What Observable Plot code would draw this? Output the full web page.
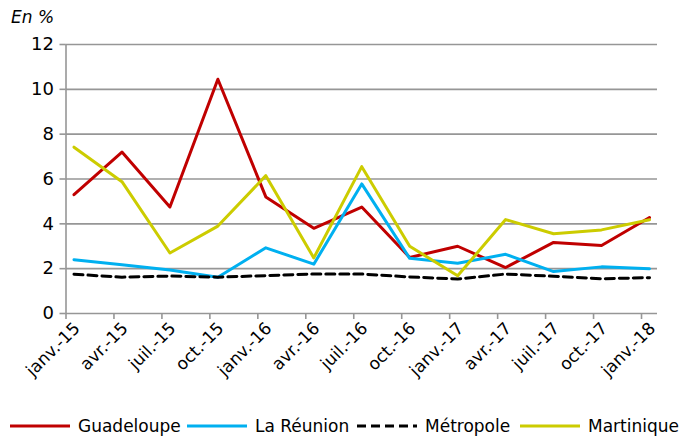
<!DOCTYPE html>
<html>
<head>
<meta charset="utf-8">
<script src="https://cdn.jsdelivr.net/npm/d3@7"></script>
<script src="https://cdn.jsdelivr.net/npm/@observablehq/plot@0.6"></script>
<style>
  html, body { margin: 0; padding: 0; background: #fff; }
  body { width: 697px; height: 438px; position: relative; overflow: hidden; font-family: "DejaVu Sans", sans-serif; color: #000; }
  #chart { position: absolute; left: 0; top: 0; }
  #title { position: absolute; left: 11px; top: 7px; font-size: 17px; font-style: italic; z-index: 2; }
  .leg { position: absolute; top: 415px; height: 22px; display: flex; align-items: center; font-size: 17px; white-space: nowrap; }
  .leg svg { margin-right: 8px; }
</style>
</head>
<body>
<div id="chart"></div>
<div id="title">En %</div>
<div id="legend"></div>
<script>
const labels = ["janv.-15","avr.-15","juil.-15","oct.-15","janv.-16","avr.-16","juil.-16","oct.-16","janv.-17","avr.-17","juil.-17","oct.-17","janv.-18"];
const guadeloupe = [5.3, 7.2, 4.75, 10.45, 5.2, 3.8, 4.75, 2.5, 3.0, 2.05, 3.17, 3.03, 4.28];
const reunion    = [2.4, 2.17, 1.94, 1.62, 2.93, 2.2, 5.78, 2.46, 2.24, 2.64, 1.87, 2.08, 2.0];
const metropole  = [1.75, 1.62, 1.67, 1.62, 1.69, 1.76, 1.76, 1.63, 1.54, 1.76, 1.66, 1.55, 1.6];
const martinique = [7.42, 5.88, 2.7, 3.9, 6.15, 2.48, 6.55, 3.0, 1.68, 4.19, 3.56, 3.73, 4.18];
const yTicks = [0, 2, 4, 6, 8, 10, 12];

const seriesNames = ["Guadeloupe", "La Réunion", "Métropole", "Martinique"];
const seriesValues = [guadeloupe, reunion, metropole, martinique];
const seriesColors = ["#C00000", "#00B0F0", "#000000", "#CCCC00"];
const seriesDash = [null, null, "9,5", null];

// months: labels every 3 months, points at middle of month
const monthOf = i => 3 * i + 0.5;
const rows = [];
seriesNames.forEach((s, k) => seriesValues[k].forEach((v, i) => rows.push({serie: s, m: monthOf(i), v})));
const boundaryTicks = labels.map((_, i) => 3 * i);
const midTicks = labels.map((_, i) => monthOf(i));
const labelOf = new Map(midTicks.map((m, i) => [m, labels[i]]));

const gridColor = "#969696";

const chart = Plot.plot({
  width: 697,
  height: 410,
  marginTop: 44,
  marginLeft: 65.5,
  marginRight: 40,
  marginBottom: 97,
  style: {fontFamily: "'DejaVu Sans', sans-serif", fontSize: "17px", color: "#000", background: "#fff"},
  x: {domain: [0, 37], axis: null},
  y: {domain: [0, 12], axis: null},
  marks: [
    Plot.gridY(yTicks, {stroke: gridColor, strokeOpacity: 1, strokeWidth: 1.6}),
    Plot.ruleX([0], {y1: 0, y2: 12, stroke: gridColor, strokeWidth: 1.6}),
    Plot.axisY(yTicks, {tickSize: 6, tickPadding: 6, stroke: gridColor, strokeWidth: 1.6, label: null, fill: "#000", fontSize: 18}),
    Plot.axisX(boundaryTicks, {tickSize: 6, tickFormat: () => "", stroke: gridColor, strokeWidth: 1.6, label: null}),
    Plot.axisX(midTicks, {tickSize: 0, tickPadding: 12, tickRotate: -45, tickFormat: d => labelOf.get(d), label: null, fill: "#000", dx: 3}),
    ...seriesNames.map((s, k) => Plot.line(rows.filter(r => r.serie === s), {
      x: "m", y: "v", stroke: seriesColors[k], strokeWidth: 3, strokeDasharray: seriesDash[k] || undefined, strokeLinejoin: "round"
    }))
  ]
});
document.getElementById("chart").appendChild(chart);

// legend
const legendLefts = [10, 187, 357, 520];
const legend = document.getElementById("legend");
seriesNames.forEach((s, k) => {
  const item = document.createElement("div");
  item.className = "leg";
  item.style.left = legendLefts[k] + "px";
  const w = 60;
  item.innerHTML = `<svg width="${w}" height="6"><line x1="0" x2="${w}" y1="3" y2="3" stroke="${seriesColors[k]}" stroke-width="3" ${seriesDash[k] ? `stroke-dasharray="${seriesDash[k]}"` : ""}/></svg><span>${s}</span>`;
  legend.appendChild(item);
});
</script>
</body>
</html>
